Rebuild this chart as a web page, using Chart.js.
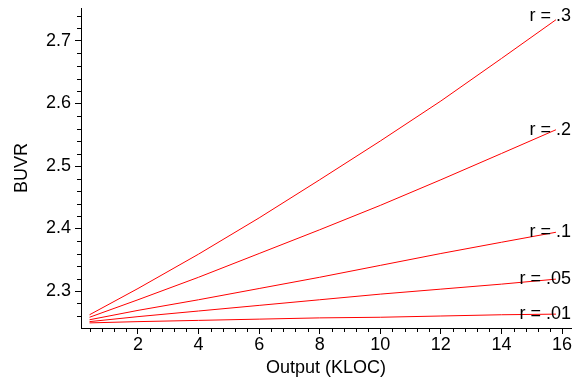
<!DOCTYPE html>
<html><head><meta charset="utf-8">
<script src="https://cdn.jsdelivr.net/npm/chart.js@4/dist/chart.umd.min.js"></script>
<style>html,body{margin:0;padding:0;background:#fff}#wrap{width:576px;height:381px}</style>
</head><body><div id="wrap"><canvas id="c" width="576" height="381"></canvas></div>
<script>
const outputKLOC = [0.4, 2, 4, 6, 8, 10, 12, 14, 15.8];
const r30 = [2.262, 2.304, 2.359, 2.417, 2.478, 2.540, 2.604, 2.672, 2.734];
const r20 = [2.258, 2.286, 2.322, 2.360, 2.398, 2.437, 2.478, 2.520, 2.558];
const r10 = [2.254, 2.269, 2.286, 2.304, 2.322, 2.341, 2.360, 2.378, 2.394];
const r05 = [2.251, 2.259, 2.268, 2.277, 2.286, 2.295, 2.303, 2.311, 2.319];
const r01 = [2.249, 2.251, 2.253, 2.255, 2.257, 2.258, 2.260, 2.262, 2.263];
const seriesLabels = ['r = .3', 'r = .2', 'r = .1', 'r = .05', 'r = .01'];
const xTicks = [2, 4, 6, 8, 10, 12, 14, 16];
const yTicks = [2.3, 2.4, 2.5, 2.6, 2.7];
const xTitle = 'Output (KLOC)';
const yTitle = 'BUVR';

const FONT = {family: '"Liberation Sans", Arial, sans-serif', size: 18};
const series = [r30, r20, r10, r05, r01];
const labelShift = [-4, 0, 0, 0, 0];

const datasets = series.map((vals, i) => ({
  label: seriesLabels[i],
  data: outputKLOC.map((x, j) => ({x: x, y: vals[j]})),
  borderColor: '#ff0000',
  borderWidth: 1,
  pointRadius: 0,
  tension: 0,
  fill: false
}));

function zeroPad(s) { s.paddingTop = 0; s.paddingBottom = 0; s.paddingLeft = 0; s.paddingRight = 0; }

const extras = {
  id: 'extras',
  afterDraw(chart) {
    const ctx = chart.ctx, xs = chart.scales.x, ys = chart.scales.y, a = chart.chartArea;
    ctx.save();
    ctx.strokeStyle = '#000';
    ctx.lineWidth = 1;
    ctx.beginPath();
    for (let k = 1; k <= 40; k++) {
      const v = k * 0.4;
      if (Math.abs(v / 2 - Math.round(v / 2)) < 1e-6) continue;
      if (v > xs.max) break;
      const px = Math.round(xs.getPixelForValue(v)) + 0.5;
      ctx.moveTo(px, a.bottom); ctx.lineTo(px, a.bottom + 4);
    }
    for (let k = 112; k <= 140; k++) {
      const v = k * 0.02;
      if (v < ys.min || v > ys.max) continue;
      if (k % 5 === 0) continue;
      const py = Math.round(ys.getPixelForValue(v)) + 0.5;
      ctx.moveTo(a.left, py); ctx.lineTo(a.left - 4, py);
    }
    ctx.stroke();
    ctx.fillStyle = '#000';
    ctx.font = '18px "Liberation Sans", Arial, sans-serif';
    ctx.textAlign = 'right';
    ctx.textBaseline = 'middle';
    series.forEach((vals, i) => {
      const y = ys.getPixelForValue(vals[vals.length - 1]) + labelShift[i];
      ctx.fillText(seriesLabels[i], a.right, y);
    });
    ctx.restore();
  }
};

new Chart(document.getElementById('c'), {
  type: 'line',
  data: {datasets},
  options: {
    responsive: false,
    devicePixelRatio: 1,
    animation: false,
    layout: {padding: {top: 8, right: 5, left: 0, bottom: 0}},
    plugins: {legend: {display: false}, tooltip: {enabled: false}},
    scales: {
      x: {
        type: 'linear', min: 0.118, max: 16.297,
        afterBuildTicks: s => { s.ticks = xTicks.map(v => ({value: v})); },
        afterFit: s => { s.height = 53; zeroPad(s); },
        grid: {drawOnChartArea: false, tickLength: 6, color: '#000', tickColor: '#000'},
        border: {color: '#000', width: 1},
        ticks: {color: '#000', font: FONT, padding: 0, maxRotation: 0, autoSkip: false},
        title: {display: true, text: xTitle, color: '#000', font: FONT, padding: {top: 0, bottom: 2}}
      },
      y: {
        type: 'linear', min: 2.2408, max: 2.7528,
        afterBuildTicks: s => { s.ticks = yTicks.map(v => ({value: v})); },
        afterFit: s => { s.width = 81; zeroPad(s); },
        grid: {drawOnChartArea: false, tickLength: 6, color: '#000', tickColor: '#000'},
        border: {color: '#000', width: 1},
        ticks: {color: '#000', font: FONT, padding: 4, callback: v => v.toFixed(1)},
        title: {display: true, text: yTitle, color: '#000', font: FONT, padding: {top: 11, bottom: 0}}
      }
    }
  },
  plugins: [extras]
});
</script>
</body></html>
